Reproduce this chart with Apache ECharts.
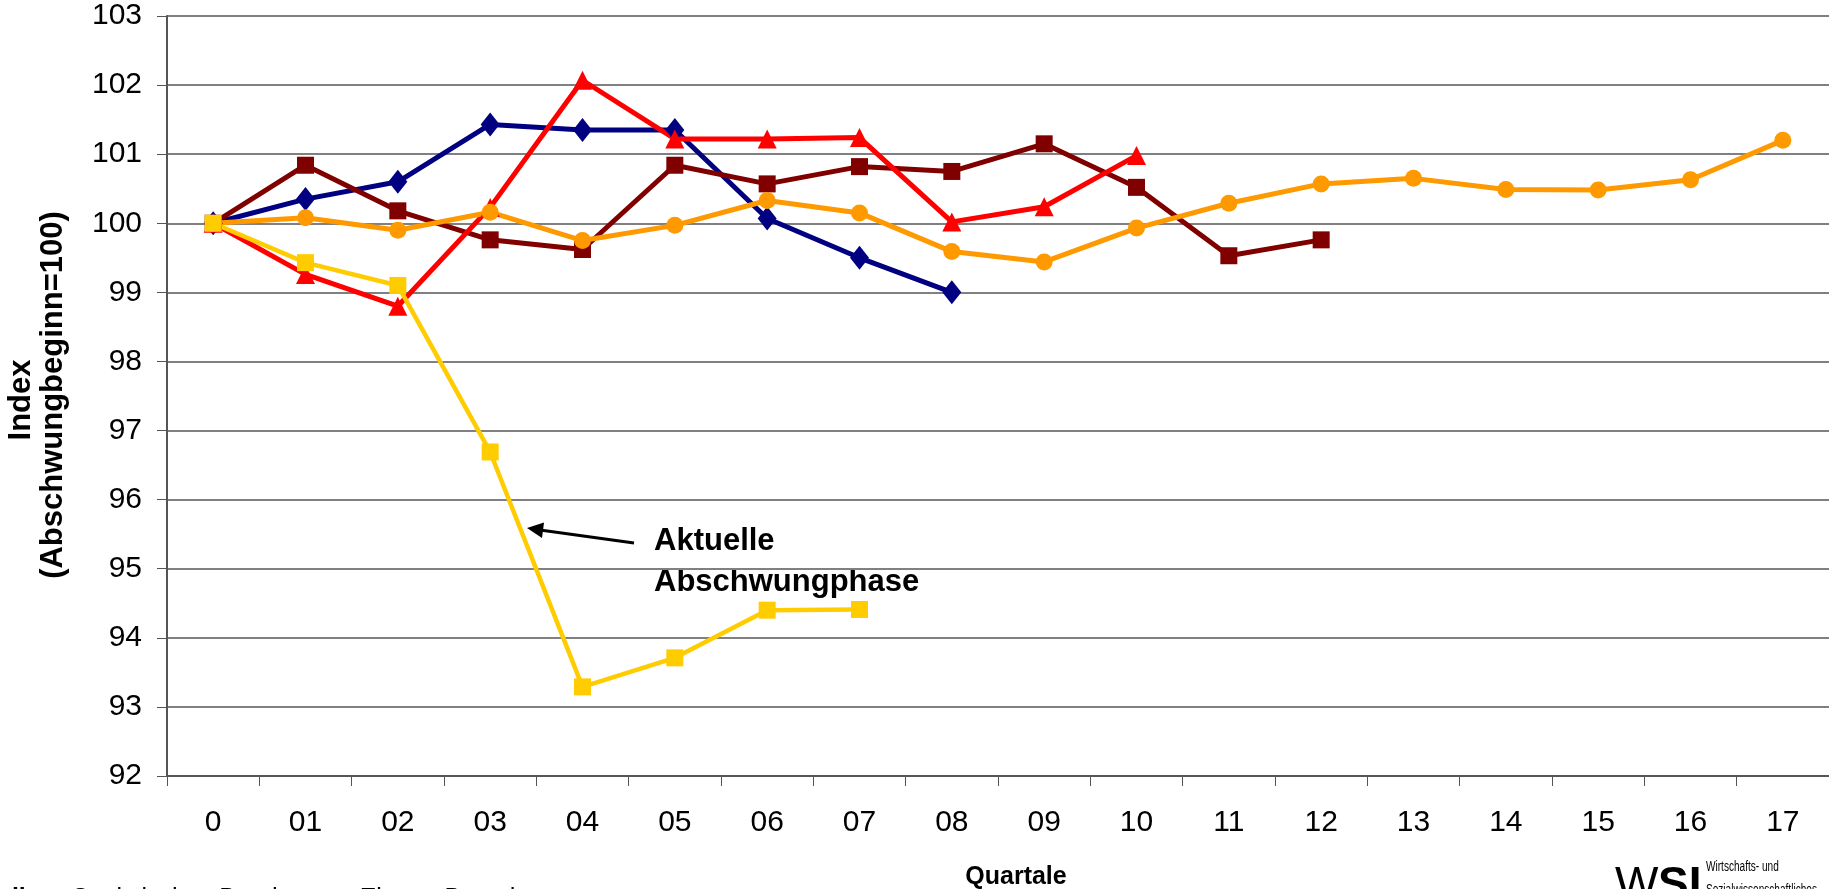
<!DOCTYPE html>
<html><head><meta charset="utf-8">
<script src="https://cdn.jsdelivr.net/npm/echarts@6/dist/echarts.min.js"></script>
<style>html,body{margin:0;padding:0;background:#fff;overflow:hidden}#c{width:1829px;height:889px}</style>
</head><body><div id="c"></div>
<script>
const categories = ['0','01','02','03','04','05','06','07','08','09','10','11','12','13','14','15','16','17'];
const valuesBlue = [100, 100.35, 100.60, 101.43, 101.35, 101.35, 100.07, 99.50, 99.00];
const valuesDarkRed = [100, 100.84, 100.18, 99.76, 99.62, 100.84, 100.57, 100.82, 100.75, 101.15, 100.52, 99.53, 99.76];
const valuesRed = [100, 99.26, 98.80, 100.23, 102.07, 101.22, 101.22, 101.24, 100.02, 100.24, 100.98];
const valuesOrange = [100, 100.08, 99.90, 100.16, 99.75, 99.97, 100.33, 100.15, 99.59, 99.44, 99.93, 100.29, 100.57, 100.65, 100.49, 100.48, 100.63, 101.20];
const valuesYellow = [100, 99.43, 99.10, 96.69, 93.29, 93.71, 94.40, 94.41];
const yMin = 92, yMax = 103, yStep = 1;
const yAxisTitle = ['Index', '(Abschwungbeginn=100)'];
const xAxisTitle = 'Quartale';
const annotationLines = ['Aktuelle', 'Abschwungphase'];
const sourceText = 'Quelle:';
const sourceRest = 'Statistisches Bundesamt; Eigene Berechnungen';

const FONT = '"Liberation Sans", Arial, sans-serif';
const chart = echarts.init(document.getElementById('c'), null, {renderer: 'canvas'});

function lineSeries(name, data, color, symbol, size, width) {
  return {
    name, type: 'line', data, symbol, symbolSize: size,
    lineStyle: {color, width: width || 5},
    itemStyle: {color, borderWidth: 0},
    emphasis: {disabled: true}
  };
}

const option = {
  animation: false,
  backgroundColor: '#fff',
  grid: {left: 167, right: 0, top: 16, bottom: 113, containLabel: false},
  xAxis: {
    type: 'category', data: categories, boundaryGap: true,
    axisLine: {show: true, lineStyle: {color: '#555', width: 2}},
    axisTick: {show: true, length: 10, lineStyle: {color: '#555', width: 1}},
    axisLabel: {interval: 0, fontSize: 30, fontFamily: FONT, color: '#000', margin: 32, lineHeight: 30},
    splitLine: {show: false}
  },
  yAxis: {
    type: 'value', min: yMin, max: yMax, interval: yStep,
    axisLine: {show: true, lineStyle: {color: '#555', width: 2}},
    axisTick: {show: true, length: 10, lineStyle: {color: '#555', width: 1}},
    axisLabel: {fontSize: 30, fontFamily: FONT, color: '#000', margin: 25},
    splitLine: {show: true, lineStyle: {color: '#808080', width: 2}}
  },
  series: [
    lineSeries('Blau', valuesBlue, '#000080', 'diamond', [19, 24]),
    lineSeries('Dunkelrot', valuesDarkRed, '#800000', 'rect', 17),
    lineSeries('Rot', valuesRed, '#FF0000', 'triangle', 19),
    lineSeries('Orange', valuesOrange, '#FF9900', 'circle', 17),
    lineSeries('Gelb', valuesYellow, '#FFCC00', 'rect', 17, 4.5)
  ],
  graphic: [
    {type: 'text', style: {text: yAxisTitle[0], font: 'bold 31px ' + FONT, fill: '#000', textAlign: 'center', textVerticalAlign: 'middle'}, position: [21, 400], rotation: Math.PI / 2},
    {type: 'text', style: {text: yAxisTitle[1], font: 'bold 31px ' + FONT, fill: '#000', textAlign: 'center', textVerticalAlign: 'middle'}, position: [53, 395], rotation: Math.PI / 2},
    {type: 'text', style: {text: xAxisTitle, font: 'bold 25px ' + FONT, fill: '#000', textAlign: 'center', textVerticalAlign: 'middle'}, position: [1016, 877]},
    {type: 'text', style: {text: annotationLines[0], font: 'bold 31px ' + FONT, fill: '#000', textAlign: 'left', textVerticalAlign: 'middle'}, position: [654, 541]},
    {type: 'text', style: {text: annotationLines[1], font: 'bold 31px ' + FONT, fill: '#000', textAlign: 'left', textVerticalAlign: 'middle'}, position: [654, 582]},
    {type: 'line', shape: {x1: 634, y1: 543, x2: 540, y2: 530}, style: {stroke: '#000', lineWidth: 3}},
    {type: 'polygon', shape: {points: [[527, 528], [544, 522.5], [542, 538]]}, style: {fill: '#000'}},
    {type: 'text', style: {text: sourceText, font: 'bold 25px ' + FONT, fill: '#000', textAlign: 'right', textVerticalAlign: 'middle'}, position: [48, 899]},
    {type: 'text', style: {text: sourceRest, font: '25px ' + FONT, fill: '#000', textAlign: 'left', textVerticalAlign: 'middle'}, position: [72, 899]},
    {type: 'text', style: {text: 'W', font: '46px ' + FONT, fill: '#000', textAlign: 'left', textVerticalAlign: 'middle'}, position: [1615, 886]},
    {type: 'text', style: {text: 'SI', font: 'bold 46px ' + FONT, fill: '#000', textAlign: 'left', textVerticalAlign: 'middle'}, position: [1658, 886]},
    {type: 'text', style: {text: 'Wirtschafts- und', font: '14px ' + FONT, fill: '#000', textAlign: 'left', textVerticalAlign: 'middle'}, position: [1706, 867], scaleX: 0.72},
    {type: 'text', style: {text: 'Sozialwissenschaftliches', font: '14px ' + FONT, fill: '#000', textAlign: 'left', textVerticalAlign: 'middle'}, position: [1706, 890], scaleX: 0.72}
  ]
};
chart.setOption(option);
</script>
</body></html>
